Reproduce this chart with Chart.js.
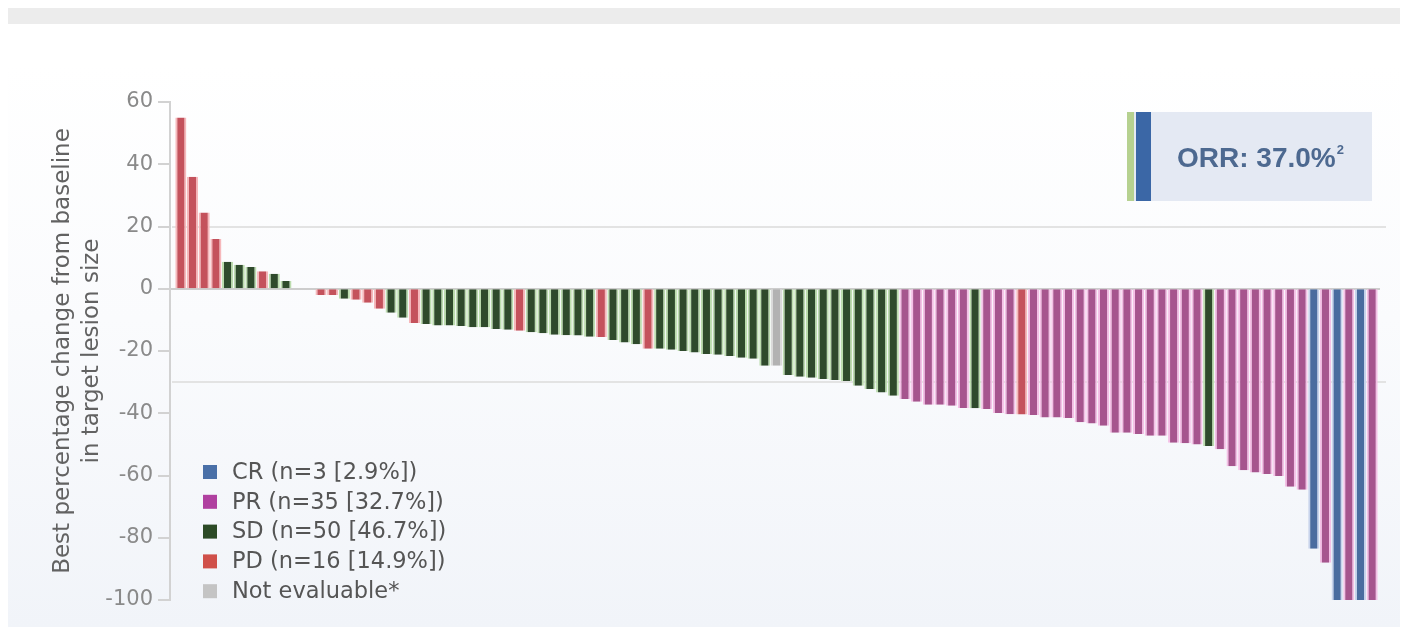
<!DOCTYPE html>
<html lang="en">
<head>
  <meta charset="UTF-8" />
  <title>Best percentage change from baseline in target lesion size</title>
  <script src="https://cdn.jsdelivr.net/npm/chart.js"></script>
  <style>
    html, body {
      margin: 0;
      padding: 0;
      background: #ffffff;
      width: 1407px;
      height: 627px;
      overflow: hidden;
      position: relative;
    }
    .band {
      position: absolute;
      left: 8px;
      top: 8px;
      width: 1392px;
      height: 16px;
      background: #ececec;
    }
    .panel {
      position: absolute;
      left: 8px;
      top: 66px;
      width: 1392px;
      height: 561px;
      background: linear-gradient(to bottom, #ffffff 0%, #fafbfd 45%, #f1f4f9 100%);
    }
    canvas {
      position: absolute;
      left: 0;
      top: 0;
    }
  </style>
</head>
<body>
  <div class="band"></div>
  <div class="panel"></div>
  <canvas id="waterfall" width="1407" height="627"></canvas>

  <script>
    // best % change per patient, sorted as in the figure
    const values = [
      55, 36, 24.5, 16, 8.7, 7.7, 7, 5.6, 4.8, 2.5,
      0, 0, -2, -2, -3.2, -3.5, -4.5, -6.4, -7.7, -9.3,
      -11, -11.3, -11.8, -11.8, -12, -12.4, -12.4, -12.9, -13.2, -13.5,
      -14, -14.3, -14.8, -14.9, -15, -15.4, -15.5, -16.5, -17.3, -17.8,
      -19.3, -19.3, -19.6, -20, -20.5, -21, -21.2, -21.6, -22.2, -22.5,
      -24.7, -24.7, -27.7, -28.3, -28.6, -29, -29.3, -29.6, -31.2, -32.2,
      -33.3, -34.4, -35.4, -36.3, -37.3, -37.3, -37.6, -38.3, -38.4, -38.6,
      -39.9, -40.3, -40.4, -40.6, -41.4, -41.4, -41.5, -42.9, -43.3, -44,
      -46.3, -46.3, -46.7, -47.2, -47.2, -49.5, -49.6, -50, -50.5, -51.6,
      -57, -58.3, -59, -59.5, -60.2, -63.6, -64.6, -83.5, -88, -100,
      -100, -100, -100
    ];
    const responses = [
      'PD','PD','PD','PD','SD','SD','SD','PD','SD','SD',
      'SD','SD','PD','PD','SD','PD','PD','PD','SD','SD',
      'PD','SD','SD','SD','SD','SD','SD','SD','SD','PD',
      'SD','SD','SD','SD','SD','SD','PD','SD','SD','SD',
      'PD','SD','SD','SD','SD','SD','SD','SD','SD','SD',
      'SD','NE','SD','SD','SD','SD','SD','SD','SD','SD',
      'SD','SD','PR','PR','PR','PR','PR','PR','SD','PR',
      'PR','PR','PD','PR','PR','PR','PR','PR','PR','PR',
      'PR','PR','PR','PR','PR','PR','PR','PR','SD','PR',
      'PR','PR','PR','PR','PR','PR','PR','CR','PR','CR',
      'PR','CR','PR'
    ];
    const patients = values.map((v, i) => 'Pt ' + (i + 1));

    const legendKeys = ['CR', 'PR', 'SD', 'PD', 'NE'];
    const legendLabels = [
      'CR (n=3 [2.9%])',
      'PR (n=35 [32.7%])',
      'SD (n=50 [46.7%])',
      'PD (n=16 [14.9%])',
      'Not evaluable*'
    ];
    const yTicks = [60, 40, 20, 0, -20, -40, -60, -80, -100];
    const refLines = [20, -30];
    const orrText = 'ORR: 37.0%';

    const barFill = { CR: '#4a6c9f', PR: '#a6558e', SD: '#2f4a2c', PD: '#c4525c', NE: '#b2b2b2' };
    const barEdge = { CR: '#c8d4ec', PR: '#f4c0e6', SD: '#bcdcae', PD: '#f6b8bb', NE: '#dadada' };
    const keyFill = { CR: '#4a70a8', PR: '#b040a0', SD: '#2c4a26', PD: '#d0504a', NE: '#c4c4c4' };

    const FONT = '"DejaVu Sans", "Open Sans", sans-serif';

    const decorations = {
      id: 'decorations',
      beforeDatasetsDraw(chart) {
        const { ctx } = chart;
        const y = chart.scales.y;
        ctx.save();
        ctx.lineWidth = 2;
        // reference lines
        ctx.strokeStyle = '#e3e3e3';
        refLines.forEach(v => {
          const py = Math.round(y.getPixelForValue(v));
          ctx.beginPath();
          ctx.moveTo(172, py);
          ctx.lineTo(1386, py);
          ctx.stroke();
        });
        // zero line
        ctx.strokeStyle = '#cdcdcd';
        const p0 = Math.round(y.getPixelForValue(0));
        ctx.beginPath();
        ctx.moveTo(170, p0);
        ctx.lineTo(1380, p0);
        ctx.stroke();
        // y axis + tick marks
        ctx.strokeStyle = '#d2d2d2';
        ctx.beginPath();
        ctx.moveTo(170, y.getPixelForValue(60) - 1);
        ctx.lineTo(170, y.getPixelForValue(-100) + 1);
        ctx.stroke();
        yTicks.forEach(v => {
          const py = Math.round(y.getPixelForValue(v));
          ctx.beginPath();
          ctx.moveTo(158, py);
          ctx.lineTo(169, py);
          ctx.stroke();
        });
        ctx.restore();
      },
      afterDraw(chart) {
        const { ctx } = chart;
        ctx.save();
        // legend
        ctx.font = '22.5px ' + FONT;
        ctx.textBaseline = 'middle';
        ctx.textAlign = 'left';
        legendLabels.forEach((t, i) => {
          const cy = 473 + i * 29.8;
          ctx.fillStyle = keyFill[legendKeys[i]];
          ctx.fillRect(203, cy - 8, 14, 14);
          ctx.fillStyle = '#555555';
          ctx.fillText(t, 232, cy);
        });
        // ORR box
        ctx.fillStyle = '#e4e9f3';
        ctx.fillRect(1127, 112, 245, 89);
        ctx.fillStyle = '#b6d190';
        ctx.fillRect(1127, 112, 7, 89);
        ctx.fillStyle = '#3b67a6';
        ctx.fillRect(1136, 112, 15, 89);
        ctx.fillStyle = '#4d6990';
        ctx.font = 'bold 28px "Liberation Sans", Arial, sans-serif';
        ctx.fillText(orrText, 1177, 159);
        const w = ctx.measureText(orrText).width;
        ctx.font = 'bold 13px "Liberation Sans", Arial, sans-serif';
        ctx.fillText('2', 1177 + w + 1, 150);
        ctx.restore();
      }
    };

    function draw() {
      const ctx = document.getElementById('waterfall').getContext('2d');
      new Chart(ctx, {
        type: 'bar',
        data: {
          labels: patients,
          datasets: [{
            data: values,
            backgroundColor: responses.map(r => barFill[r]),
            borderColor: responses.map(r => barEdge[r]),
            borderWidth: { left: 2, right: 2, top: 0, bottom: 0 },
            borderSkipped: false,
            barPercentage: 1,
            categoryPercentage: 0.95
          }]
        },
        options: {
          responsive: false,
          animation: false,
          layout: { padding: { left: 0, right: 29, top: 102, bottom: 27 } },
          scales: {
            x: { display: false },
            y: {
              min: -100,
              max: 60,
              afterFit(scale) { scale.width = 175; },
              // invisible tick marks give the label gap without padding the plot vertically
              grid: {
                display: true,
                drawOnChartArea: false,
                drawTicks: true,
                tickLength: 22,
                color: 'rgba(0,0,0,0)'
              },
              border: { display: false },
              ticks: {
                stepSize: 20,
                padding: 0,
                color: '#8a8a8a',
                font: { family: FONT, size: 21 }
              },
              title: {
                display: true,
                text: ['Best percentage change from baseline', 'in target lesion size'],
                color: '#626262',
                font: { family: FONT, size: 23, lineHeight: 1.26 },
                padding: { top: 48.5, bottom: 0 }
              }
            }
          },
          plugins: {
            legend: { display: false },
            tooltip: { enabled: false }
          }
        },
        plugins: [decorations]
      });
    }

    if (document.fonts && document.fonts.load) {
      Promise.all([
        document.fonts.load('21px "DejaVu Sans"'),
        document.fonts.load('bold 28px "Liberation Sans"')
      ]).then(draw, draw);
    } else {
      draw();
    }
  </script>
</body>
</html>
